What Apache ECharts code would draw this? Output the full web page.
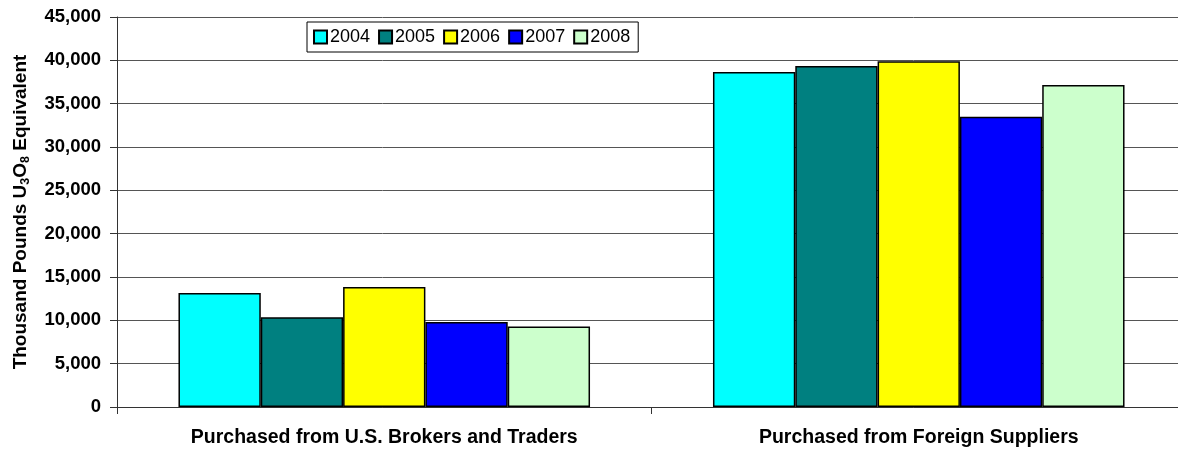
<!DOCTYPE html>
<html>
<head>
<meta charset="utf-8">
<script src="https://cdn.jsdelivr.net/npm/echarts@6/dist/echarts.min.js"></script>
<style>html,body{margin:0;padding:0;background:#fff;}#c{width:1178px;height:452px;}</style>
</head>
<body>
<div id="c"></div>
<script>
var categories = ['Purchased from U.S. Brokers and Traders', 'Purchased from Foreign Suppliers'];
var years = ['2004', '2005', '2006', '2007', '2008'];
var v2004 = [13150, 38650];
var v2005 = [10350, 39350];
var v2006 = [13850, 39900];
var v2007 = [9800, 33500];
var v2008 = [9300, 37150];
var seriesValues = [v2004, v2005, v2006, v2007, v2008];
var colors = ['#00FFFF', '#008080', '#FFFF00', '#0000FF', '#CCFFCC'];
var yTicks = { min: 0, max: 45000, interval: 5000 };

var FONT = "'Liberation Sans', Arial, sans-serif";
var chart = echarts.init(document.getElementById('c'), null, { renderer: 'canvas' });
var series = years.map(function (y, i) {
  return {
    name: y,
    type: 'bar',
    data: seriesValues[i],
    barGap: '0%',
    barCategoryGap: '23%',
    itemStyle: { color: colors[i], borderColor: '#000', borderWidth: 1.5 },
    emphasis: { disabled: true }
  };
});
chart.setOption({
  animation: false,
  textStyle: { fontFamily: FONT },
  grid: { left: 117, top: 17, width: 1069, height: 390, containLabel: false, outerBoundsMode: 'none' },
  legend: {
    data: years,
    left: 307,
    top: 22,
    orient: 'horizontal',
    itemWidth: 13,
    itemHeight: 13,
    itemGap: 8,
    padding: [6, 8, 6, 6],
    borderColor: '#000',
    borderWidth: 1,
    backgroundColor: '#fff',
    icon: 'rect',
    textStyle: { fontFamily: FONT, fontSize: 18, color: '#000', padding: [0, 0, 0, -2] }
  },
  xAxis: {
    type: 'category',
    data: categories,
    axisLine: { lineStyle: { color: '#333', width: 1 } },
    axisTick: { show: true, length: 7, lineStyle: { color: '#333' } },
    axisLabel: { fontFamily: FONT, fontWeight: 'bold', fontSize: 19.5, color: '#000', margin: 21 },
    splitLine: { show: false }
  },
  yAxis: {
    type: 'value',
    min: yTicks.min,
    max: yTicks.max,
    interval: yTicks.interval,
    name: '{a|Thousand Pounds U}{s|3}{a|O}{s|8}{a| Equivalent}',
    nameLocation: 'middle',
    nameGap: 85,
    nameRotate: 90,
    nameTextStyle: {
      fontFamily: FONT,
      fontWeight: 'bold',
      color: '#000',
      rich: {
        a: { fontFamily: FONT, fontWeight: 'bold', fontSize: 19, lineHeight: 23, color: '#000' },
        s: { fontFamily: FONT, fontWeight: 'bold', fontSize: 12.5, lineHeight: 12, verticalAlign: 'bottom', color: '#000' }
      }
    },
    axisLine: { show: true, lineStyle: { color: '#333', width: 1 } },
    axisTick: { show: true, length: 7, lineStyle: { color: '#333' } },
    axisLabel: {
      fontFamily: FONT, fontWeight: 'bold', fontSize: 18.5, color: '#000', margin: 16,
      formatter: function (v) { return v.toLocaleString('en-US'); }
    },
    splitLine: { show: true, lineStyle: { color: '#555', width: 1 } }
  },
  series: series
});
</script>
</body>
</html>
